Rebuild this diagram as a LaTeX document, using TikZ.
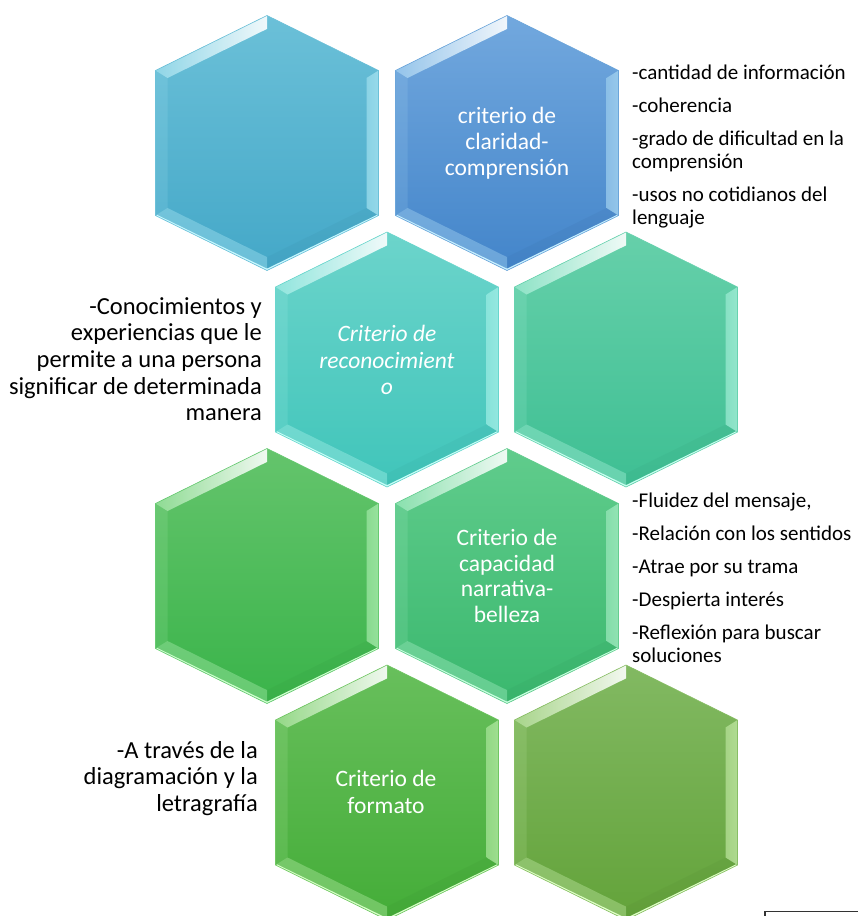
\documentclass[tikz,border=0pt]{standalone}
\usepackage{fontspec}
\setmainfont{Carlito}
\definecolor{hAt}{HTML}{6BC0D8}\definecolor{hAb}{HTML}{44A8C8}\definecolor{hAh}{HTML}{C8F8FF}
\definecolor{hBt}{HTML}{72A8DE}\definecolor{hBb}{HTML}{4385CA}\definecolor{hBh}{HTML}{C8F0FF}
\definecolor{hCt}{HTML}{6CD4CB}\definecolor{hCb}{HTML}{40C5BA}\definecolor{hCh}{HTML}{C8FFF8}
\definecolor{hDt}{HTML}{66D0AA}\definecolor{hDb}{HTML}{3EBF93}\definecolor{hDh}{HTML}{C8FFF0}
\definecolor{hEt}{HTML}{64C46C}\definecolor{hEb}{HTML}{3AB44A}\definecolor{hEh}{HTML}{D0FFD0}
\definecolor{hFt}{HTML}{60CC8C}\definecolor{hFb}{HTML}{3AB86E}\definecolor{hFh}{HTML}{C8FFE0}
\definecolor{hGt}{HTML}{68BF5C}\definecolor{hGb}{HTML}{44AD38}\definecolor{hGh}{HTML}{D8FFC8}
\definecolor{hHt}{HTML}{82B962}\definecolor{hHb}{HTML}{63A33A}\definecolor{hHh}{HTML}{E0FFC8}
\newcommand\hexcell[5]{%
  \begin{scope}[shift={(#1,#2)}]
    \path[top color=#3,bottom color=#4]
      (0,-127.5)--(111.5,-72.5)--(111.5,72.5)--(0,127.5)--(-111.5,72.5)--(-111.5,-72.5)--cycle;
    % left facet
    \fill[#5,opacity=.12] (-111.5,-72.5)--(-99.5,-65)--(-99.5,65)--(-111.5,72.5)--cycle;
    % upper-left facet
    \path[left color=#3!55!#5,right color=white,opacity=.9]
      (-111.5,-72.5)--(0,-127.5)--(0,-114.1)--(-99.5,-65)--cycle;
    % right facet
    \path[left color=#4!40!#5,middle color=white,right color=#5!70!#4,opacity=.85]
      (111.5,-72.5)--(111.5,72.5)--(99.5,65)--(99.5,-65)--cycle;
    % lower facets
    \fill[#5,opacity=.3] (-111.5,72.5)--(0,127.5)--(0,114.1)--(-99.5,65)--cycle;
    \fill[#4!80!black,opacity=.12] (111.5,72.5)--(0,127.5)--(0,114.1)--(99.5,65)--cycle;
    \draw[#5,line width=1.6pt] (-110.5,72.5)--(0,126.5)--(110.5,72.5);
    \draw[#4!70!#5,line width=.6pt]
      (0,-127.5)--(111.5,-72.5)--(111.5,72.5)--(0,127.5)--(-111.5,72.5)--(-111.5,-72.5)--cycle;
  \end{scope}}
\tikzset{
  hextext/.style={text=white,align=center,inner sep=0pt,font=\fontsize{23.5}{25.8}\selectfont},
  sidetextR/.style={text=black,align=left,inner sep=0pt,anchor=north west,font=\fontsize{21}{23}\selectfont},
  sidetextL/.style={text=black,align=right,inner sep=0pt,anchor=north east,font=\fontsize{24.5}{26.7}\selectfont}
}
\begin{document}
\begin{tikzpicture}[x=1pt,y=-1pt]
\useasboundingbox[fill=white] (0,0) rectangle (858,916);
\hexcell{267}{143}{hAt}{hAb}{hAh}
\hexcell{507}{143}{hBt}{hBb}{hBh}
\hexcell{387}{359.5}{hCt}{hCb}{hCh}
\hexcell{626}{359.5}{hDt}{hDb}{hDh}
\hexcell{267}{576}{hEt}{hEb}{hEh}
\hexcell{507}{576}{hFt}{hFb}{hFh}
\hexcell{387}{792.5}{hGt}{hGb}{hGh}
\hexcell{626}{792.5}{hHt}{hHb}{hHh}

\node[hextext] (t2) at (507,143) {criterio de\\claridad-\\comprensión};
\node[hextext,font=\fontsize{23.5}{26.7}\selectfont\itshape] (t3) at (387,360) {Criterio de\\reconocimient\\o};
\node[hextext] (t6) at (507,576) {Criterio de\\capacidad\\narrativa-\\belleza};
\node[hextext,font=\fontsize{23.5}{26.5}\selectfont] (t7) at (386,792) {Criterio de\\formato};

\node[sidetextR] (r1) at (632,65) {-cantidad de información\\[10pt]-coherencia\\[10pt]-grado de dificultad en la\\comprensión\\[10pt]-usos no cotidianos del\\lenguaje};
\node[sidetextR] (r3) at (632,493) {-Fluidez del mensaje,\\[10pt]-Relación con los sentidos\\[10pt]-Atrae por su trama\\[10pt]-Despierta interés\\[10pt]-Reflexión para buscar\\soluciones};
\node[sidetextL] (l2) at (262,297) {-Conocimientos y\\experiencias que le\\permite a una persona\\significar de determinada\\manera};
\node[sidetextL] (l4) at (258,741) {-A través de la\\diagramación y la\\letragrafía};

\coordinate (boxA) at (765,916);
\coordinate (boxB) at (765,911.5);
\coordinate (boxC) at (858,911.5);
\draw[black!80,line width=1.3pt] (boxA)--(boxB)--(boxC);
\end{tikzpicture}
\end{document}
